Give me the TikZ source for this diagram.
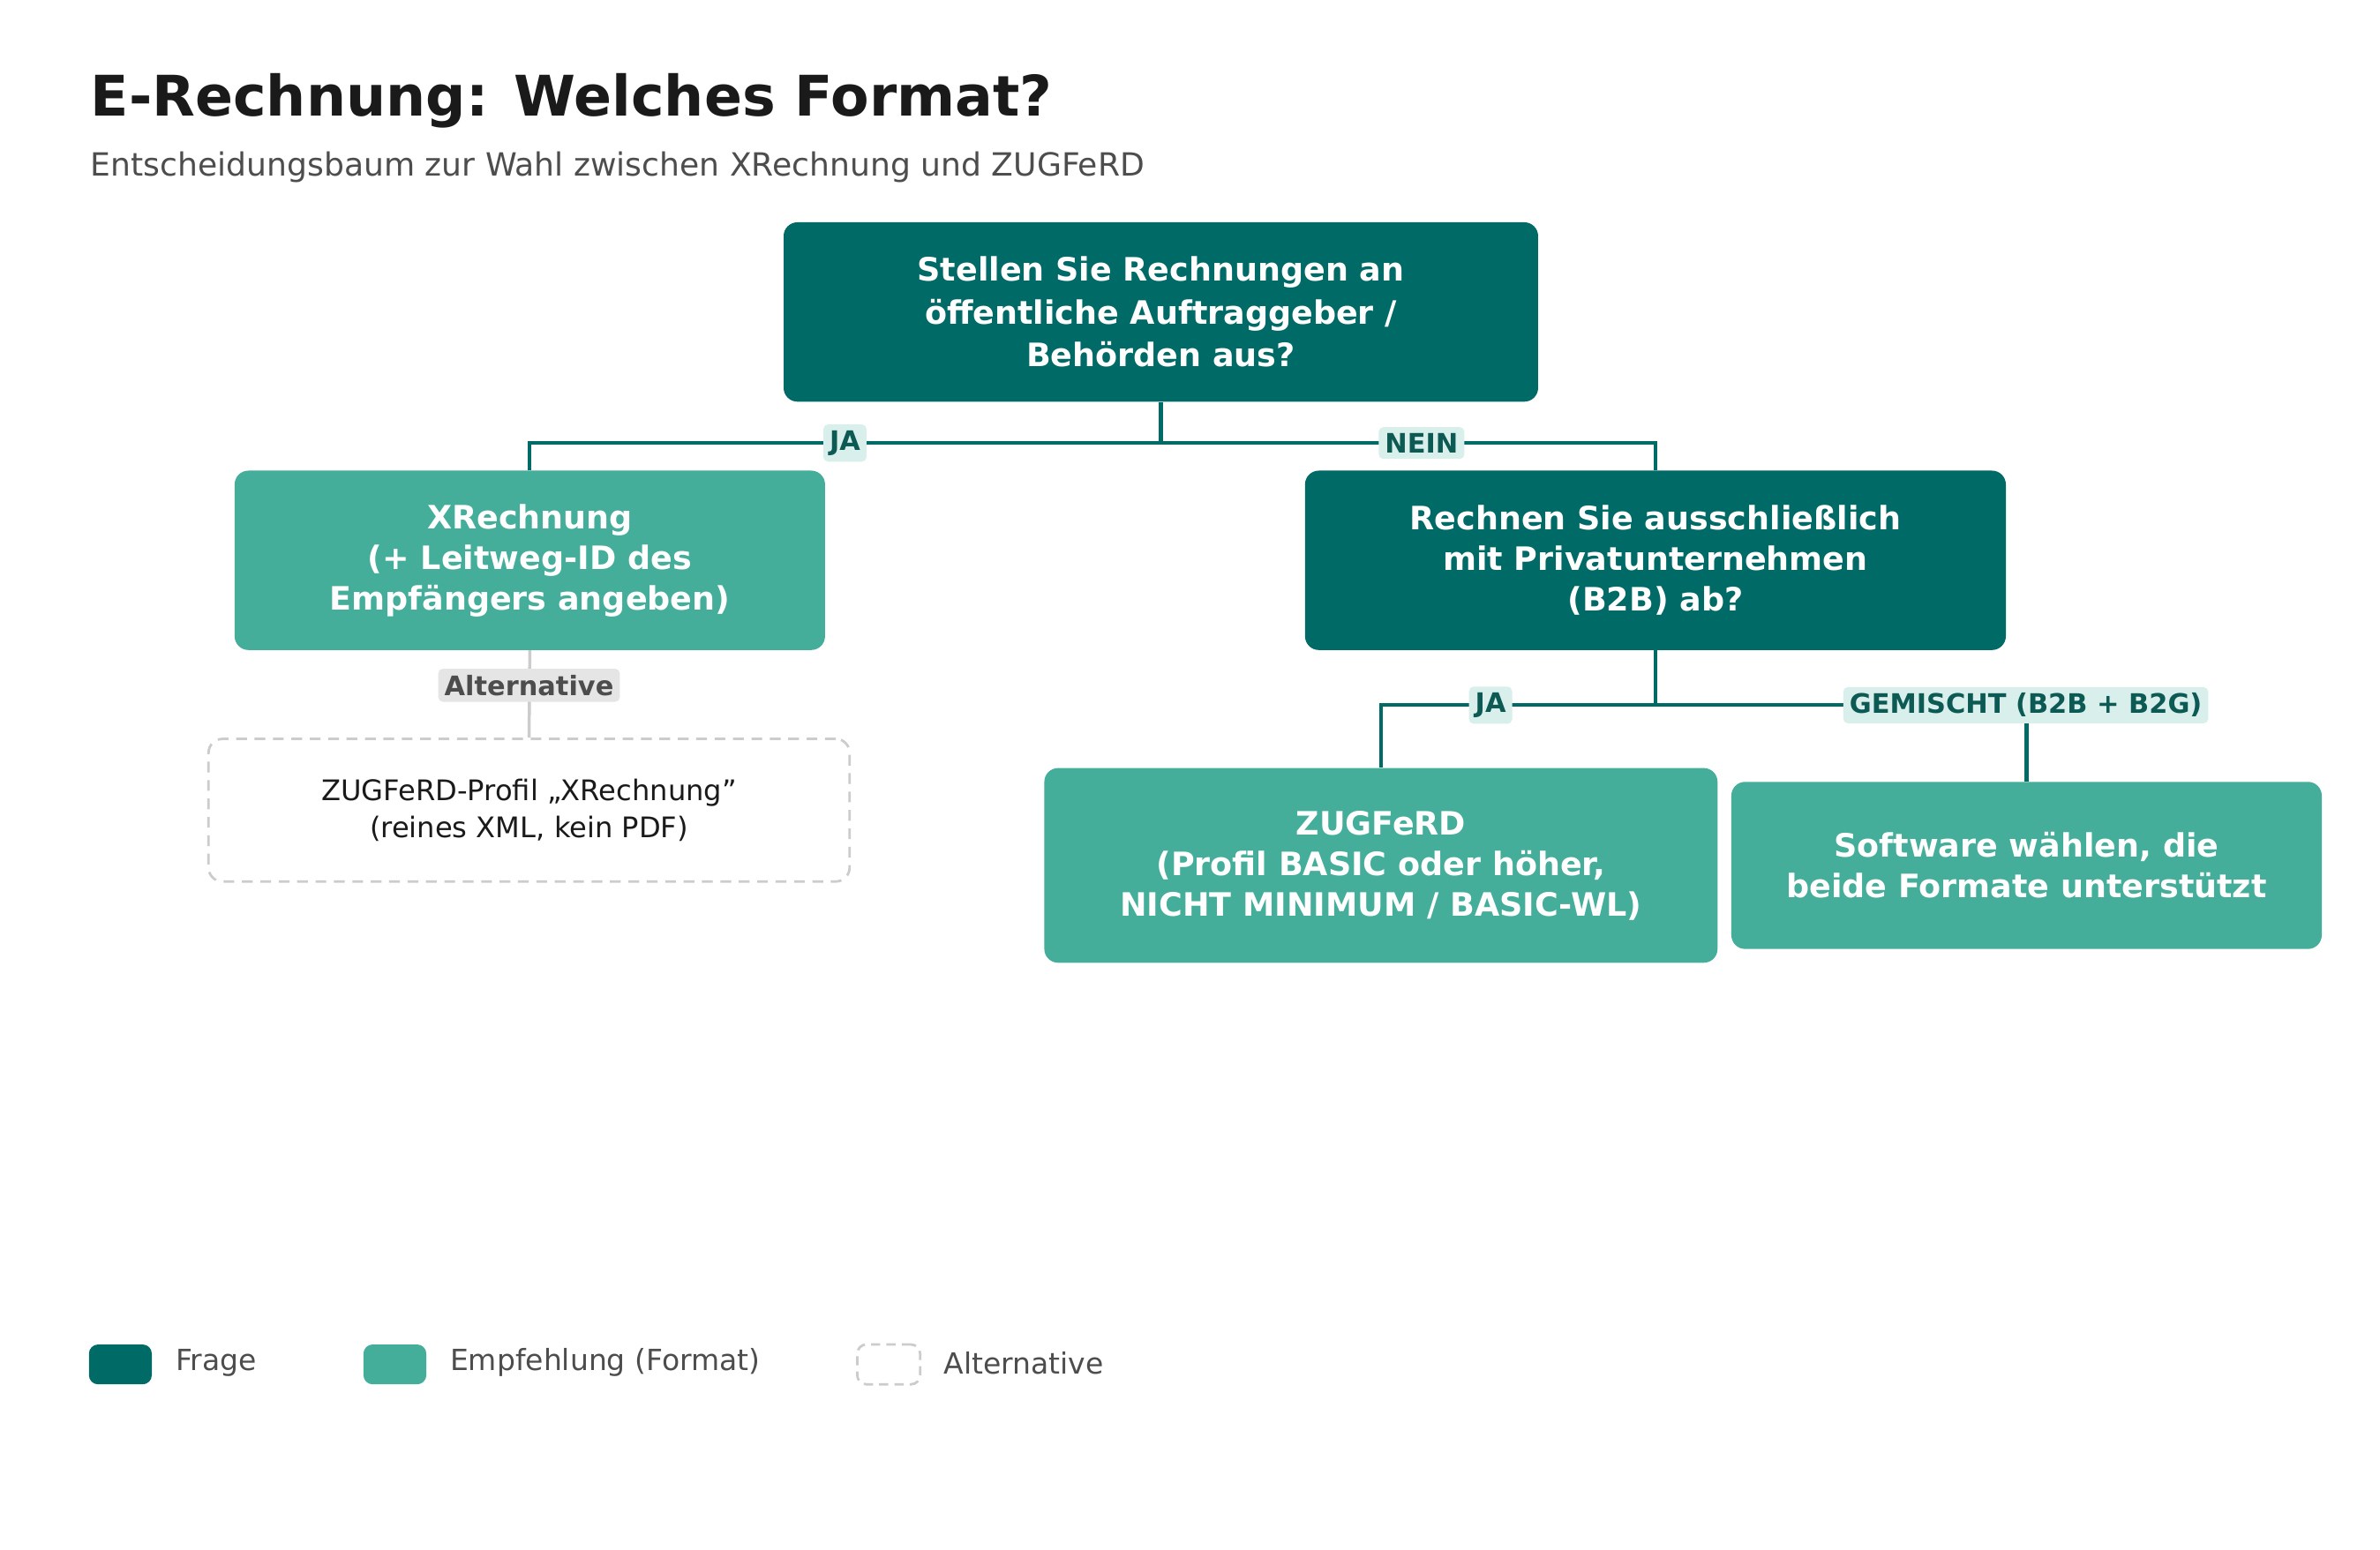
\documentclass[tikz,border=0pt]{standalone}
\usepackage{fontspec}
\setmainfont{DejaVu Sans}
\definecolor{dark}{HTML}{006A67}
\definecolor{mid}{HTML}{44AE9A}
\definecolor{lblbg}{HTML}{D9EFEB}
\definecolor{lbltx}{HTML}{0D5A55}
\definecolor{gr}{HTML}{CCCCCC}
\definecolor{altbg}{HTML}{E5E5E5}
\definecolor{ttl}{HTML}{1A1A1A}
\definecolor{sub}{HTML}{4D4D4D}
\begin{document}
\begin{tikzpicture}[x=1pt,y=-1pt,
  qbox/.style={fill=dark,rounded corners=9pt,text=white,font=\fontsize{21}{28}\selectfont\bfseries,align=center,inner sep=0},
  rbox/.style={fill=mid,rounded corners=9pt,text=white,font=\fontsize{21}{26.5}\selectfont\bfseries,align=center,inner sep=0},
  abox/.style={draw=gr,line width=1.6pt,dash pattern=on 7pt off 5pt,rounded corners=9pt,text=ttl,font=\fontsize{18.5}{24}\selectfont,align=center,inner sep=0},
  conn/.style={draw=dark,line width=2.4pt},
  lbl/.style={fill=lblbg,text=lbltx,rounded corners=3pt,font=\fontsize{17.5}{20}\selectfont\bfseries,inner sep=4pt},
  altlbl/.style={fill=altbg,text=sub,rounded corners=3pt,font=\fontsize{17.5}{20}\selectfont\bfseries,inner sep=4pt},
  legtext/.style={text=sub,font=\fontsize{19}{22}\selectfont,anchor=west}]
\useasboundingbox (0,0) rectangle (1552,1011);
\fill[white] (0,0) rectangle (1552,1011);
\node[anchor=west,text=ttl,font=\fontsize{36.5}{40}\selectfont\bfseries,inner sep=0] (title) at (59,66) {E-Rechnung: Welches Format?};
\node[anchor=west,text=sub,font=\fontsize{20.8}{24}\selectfont,inner sep=0] (subtitle) at (59,109) {Entscheidungsbaum zur Wahl zwischen XRechnung und ZUGFeRD};

\node[qbox,minimum width=492pt,minimum height=117pt] (q1) at (757,203.5) {Stellen Sie Rechnungen an\\öffentliche Auftraggeber /\\Behörden aus?};
\node[rbox,minimum width=385pt,minimum height=117pt] (xr) at (345.5,365.5) {XRechnung\\(+ Leitweg-ID des\\Empfängers angeben)};
\node[qbox,font=\fontsize{21}{26.5}\selectfont\bfseries,minimum width=457pt,minimum height=117pt] (q2) at (1079.5,365.5) {Rechnen Sie ausschließlich\\mit Privatunternehmen\\(B2B) ab?};
\node[abox,minimum width=418pt,minimum height=93pt] (alt) at (345,528.5) {ZUGFeRD-Profil „XRechnung"\\(reines XML, kein PDF)};
\node[rbox,minimum width=439pt,minimum height=127pt] (zf) at (900.5,564.5) {ZUGFeRD\\(Profil BASIC oder höher,\\NICHT MINIMUM / BASIC-WL)};
\node[rbox,minimum width=385pt,minimum height=109pt] (sw) at (1321.5,564.5) {Software wählen, die\\beide Formate unterstützt};

\coordinate (j1) at (757,289);
\draw[conn] (q1.south) -- (j1);
\draw[conn] (j1) -| (xr.north);
\draw[conn] (j1) -| (q2.north);
\node[lbl] (ja1) at (551,289) {JA};
\node[lbl] (nein1) at (927,289) {NEIN};

\draw[gr,line width=2pt] (xr.south) -- (alt.north);
\node[altlbl] (altl) at (345,447) {Alternative};

\coordinate (j2) at (1079.5,460);
\draw[conn] (q2.south) -- (j2);
\draw[conn] (j2) -| (zf.north);
\draw[conn] (j2) -| (sw.north);
\node[lbl] (ja2) at (972,460) {JA};
\node[lbl] (gem) at (1321,460) {GEMISCHT (B2B + B2G)};

\node[fill=dark,rounded corners=6pt,minimum width=41pt,minimum height=26pt,inner sep=0] (lg1) at (78.5,890) {};
\node[legtext] (lt1) at (111,889) {Frage};
\node[fill=mid,rounded corners=6pt,minimum width=41pt,minimum height=26pt,inner sep=0] (lg2) at (257.5,890) {};
\node[legtext] (lt2) at (290,889) {Empfehlung (Format)};
\node[draw=gr,line width=1.6pt,dash pattern=on 6pt off 4pt,rounded corners=6pt,minimum width=41pt,minimum height=26pt,inner sep=0] (lg3) at (579.5,890) {};
\node[legtext] (lt3) at (612,889) {Alternative};
\end{tikzpicture}
\end{document}
